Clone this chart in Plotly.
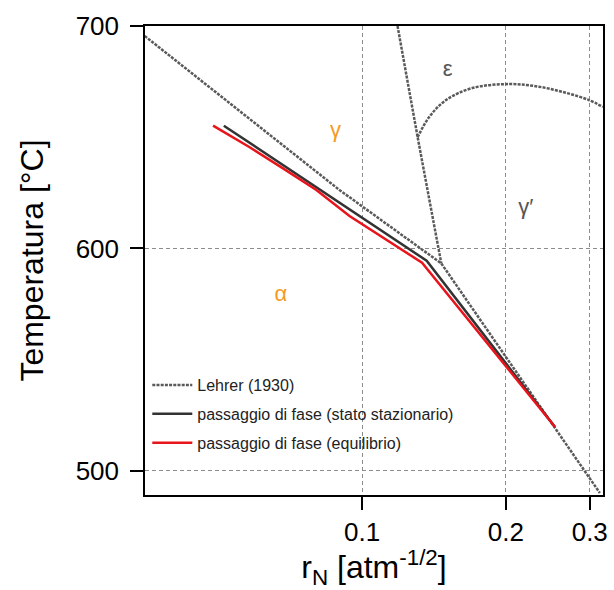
import plotly.graph_objects as go

# ---- data ----
lehrer_diag_x = [0.0350, 0.0554, 0.0896, 0.1465, 0.315]
lehrer_diag_T = [695.5, 661.8, 626.3, 593.3, 490.1]

lehrer_vert_x = [0.1186, 0.1307, 0.1465]
lehrer_vert_T = [700.0, 650.0, 593.3]

lehrer_arc_x = [0.1307, 0.1383, 0.1499, 0.1701, 0.2033, 0.2349, 0.2672, 0.2988, 0.3197]
lehrer_arc_T = [650.0, 659.2, 666.7, 672.1, 673.9, 672.7, 670.0, 666.7, 663.6]

stato_x = [0.05127, 0.09406, 0.1365, 0.2537]
stato_T = [655.2, 617.6, 594.5, 519.8]

equil_x = [0.04868, 0.05809, 0.06823, 0.08014, 0.09406, 0.1335, 0.2537]
equil_T = [655.2, 645.5, 636.0, 626.3, 614.6, 593.6, 519.8]

phase_orange_text = ["γ", "α"]
phase_orange_x = [0.0879, 0.0675]
phase_orange_T = [652.5, 578.7]

phase_gray_text = ["ε", "γ′"]
phase_gray_x = [0.1511, 0.2203]
phase_gray_T = [680.2, 618.1]

x_ticks = [0.1, 0.2, 0.3]
x_ticktext = ["0.1", "0.2", "0.3"]
y_ticks = [500, 600, 700]

FONT = "Liberation Sans, Arial, sans-serif"
GRAY = "#5a5a5a"
DASH = "3px,1.2px"

fig = go.Figure()

fig.add_trace(go.Scatter(x=lehrer_diag_x, y=lehrer_diag_T, mode="lines",
                         line=dict(color=GRAY, width=2.5, dash=DASH),
                         name="Lehrer (1930)", legendgroup="a", showlegend=True))
fig.add_trace(go.Scatter(x=lehrer_vert_x, y=lehrer_vert_T, mode="lines",
                         line=dict(color=GRAY, width=2.5, dash=DASH),
                         legendgroup="a", showlegend=False))
fig.add_trace(go.Scatter(x=lehrer_arc_x, y=lehrer_arc_T, mode="lines",
                         line=dict(color=GRAY, width=2.5, dash=DASH, shape="spline"),
                         legendgroup="a", showlegend=False))
fig.add_trace(go.Scatter(x=stato_x, y=stato_T, mode="lines",
                         line=dict(color="#333333", width=2.5),
                         name="passaggio di fase (stato stazionario)", legendgroup="b"))
fig.add_trace(go.Scatter(x=equil_x, y=equil_T, mode="lines",
                         line=dict(color="#e8141c", width=2.5),
                         name="passaggio di fase (equilibrio)", legendgroup="c"))

fig.add_trace(go.Scatter(x=phase_orange_x, y=phase_orange_T, mode="text",
                         text=phase_orange_text, showlegend=False,
                         textfont=dict(family=FONT, size=22, color="#f39a1f")))
fig.add_trace(go.Scatter(x=phase_gray_x, y=phase_gray_T, mode="text",
                         text=phase_gray_text, showlegend=False,
                         textfont=dict(family=FONT, size=22, color="#555555")))

axis_common = dict(showline=True, linecolor="black", linewidth=1.5, mirror=True,
                   ticks="outside", ticklen=13, tickwidth=1.5, tickcolor="black",
                   showgrid=True, gridcolor="#8c8c8c", gridwidth=1, griddash="4px,3px",
                   zeroline=False, tickfont=dict(family=FONT, size=26, color="black"))

fig.update_xaxes(type="log", range=[-1.4554, -0.4951], tickvals=x_ticks, ticktext=x_ticktext,
                 title=dict(text="r<sub>N</sub> [atm<sup>-1/2</sup>]",
                            font=dict(family=FONT, size=32, color="black"), standoff=10),
                 **axis_common)
fig.update_yaxes(range=[489.2, 700], tickvals=y_ticks, ticklabelstandoff=6,
                 title=dict(text="Temperatura [°C]",
                            font=dict(family=FONT, size=32, color="black"), standoff=22),
                 **axis_common)

fig.update_layout(
    width=614, height=590,
    margin=dict(l=145, r=10.5, t=26, b=95, autoexpand=False),
    paper_bgcolor="white", plot_bgcolor="white",
    font=dict(family=FONT, color="black"),
    legend=dict(x=0.005, y=0.2705, xanchor="left", yanchor="top",
                bgcolor="rgba(0,0,0,0)", font=dict(family=FONT, size=16, color="#222222"),
                tracegroupgap=5, itemwidth=40),
)

fig.write_html("out.html")
